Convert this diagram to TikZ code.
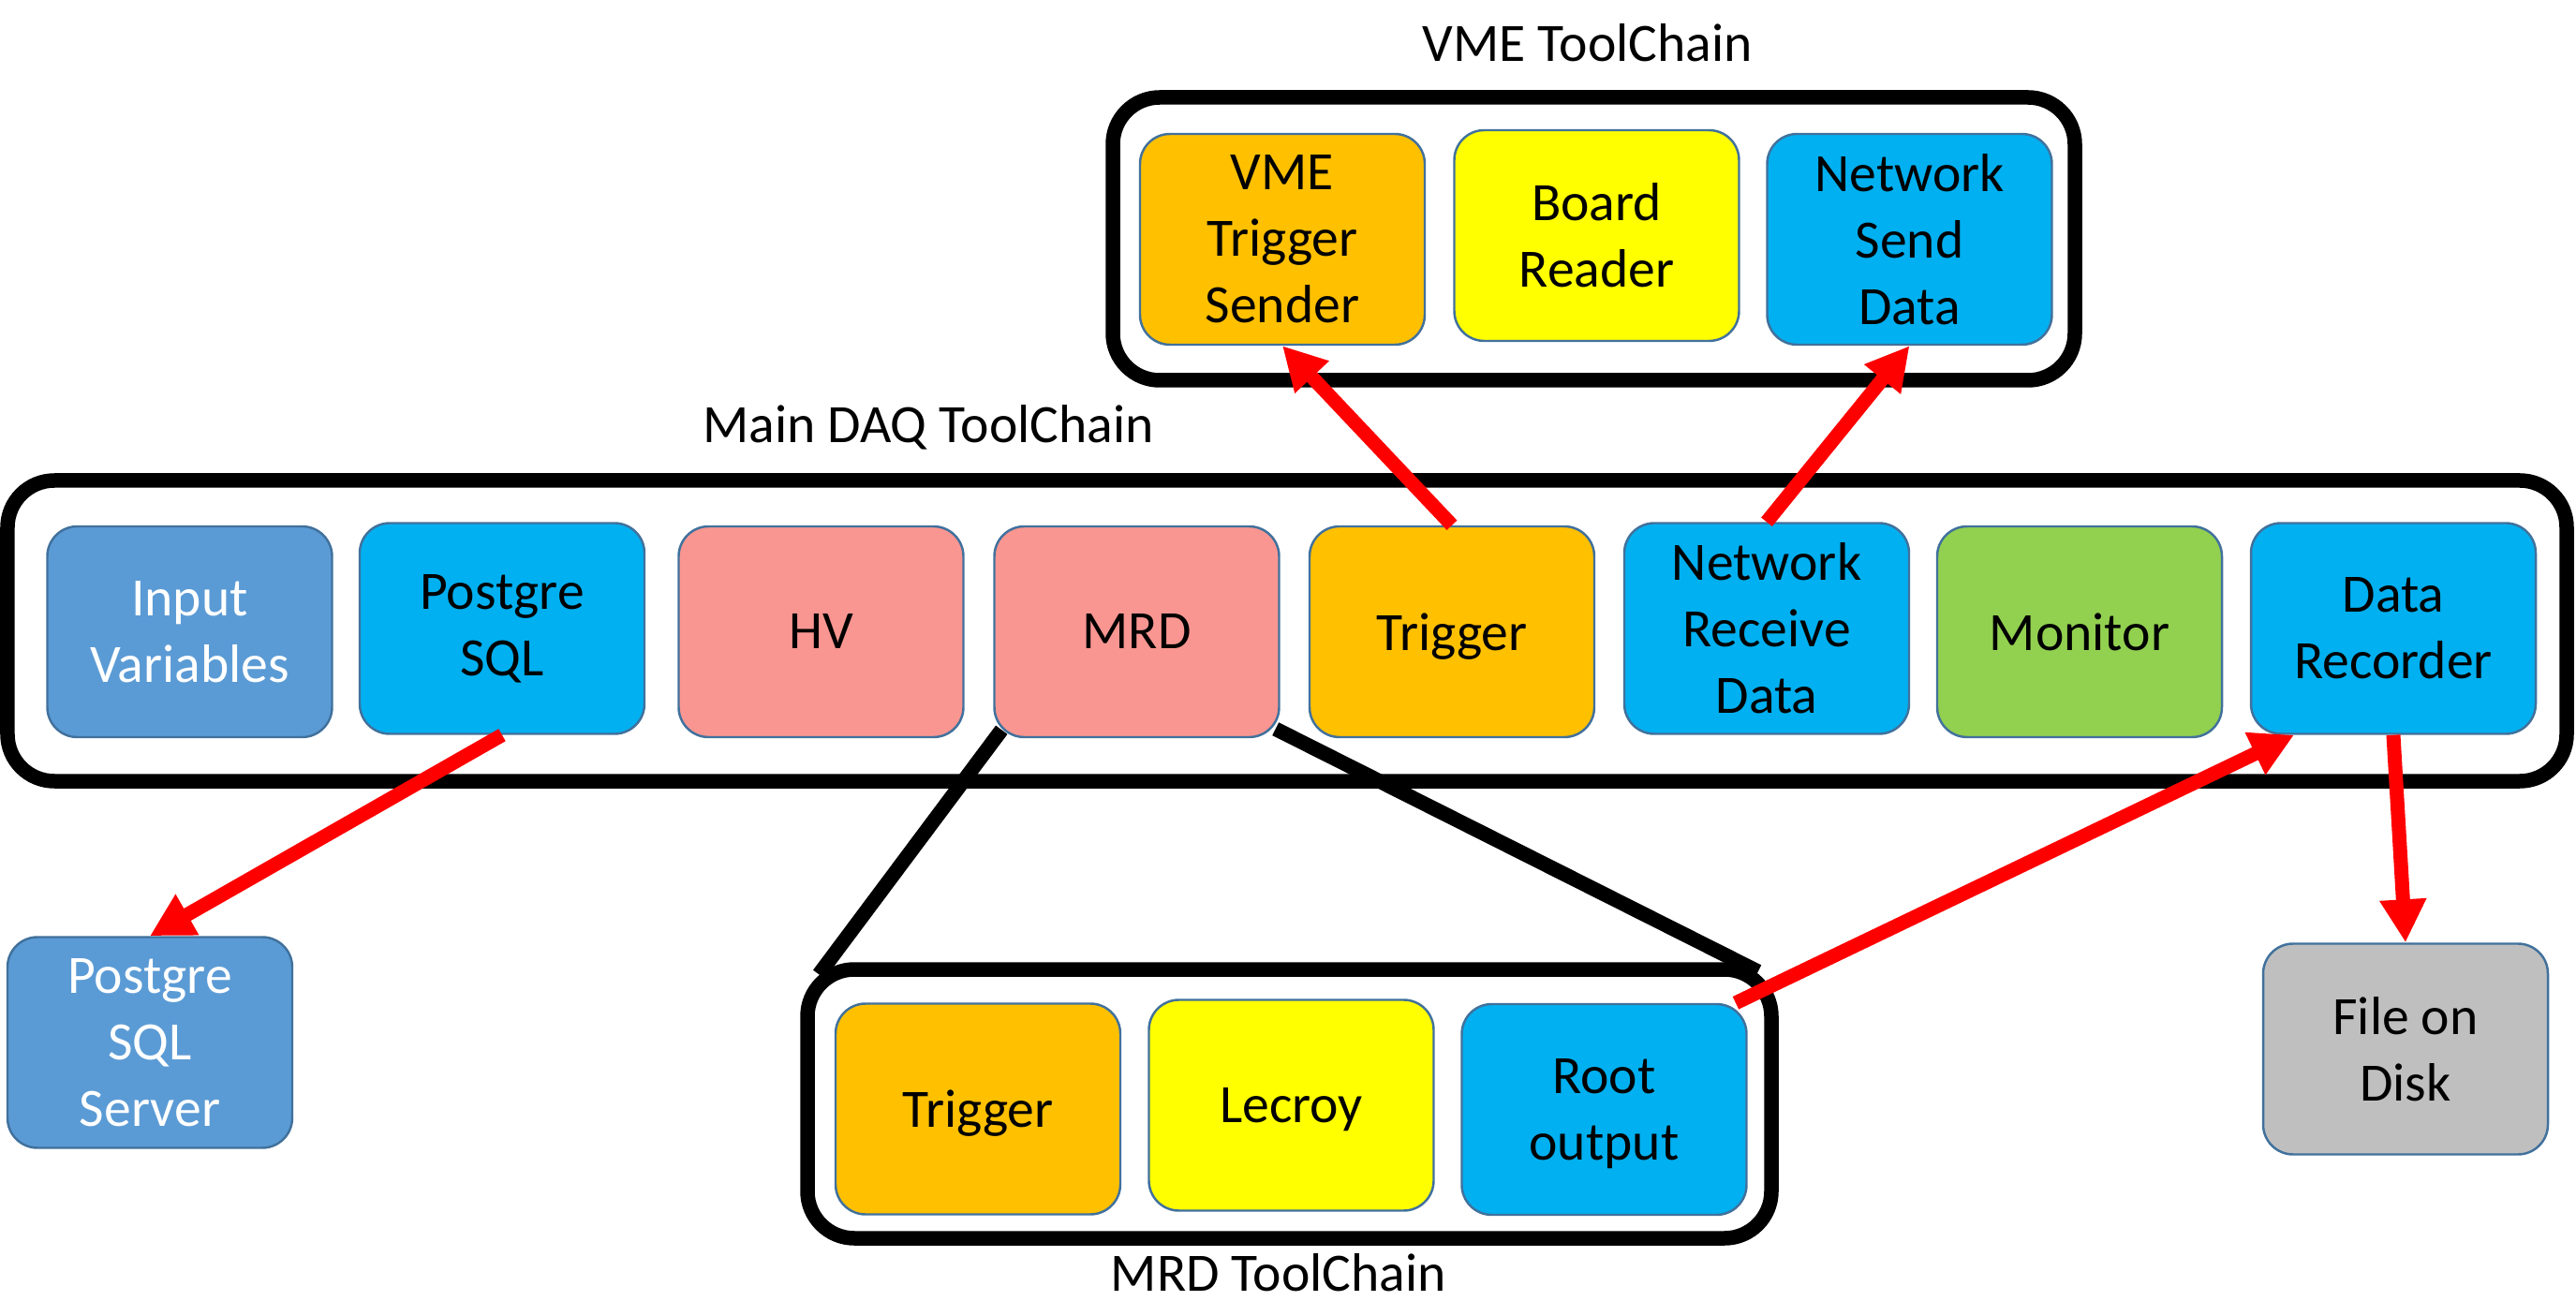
\documentclass[tikz,border=0pt]{standalone}
\usepackage{fontspec}
\setmainfont{Carlito}
\usepackage{tikz}
\usetikzlibrary{arrows.meta}

\definecolor{toolblue}{HTML}{00B0F0}
\definecolor{steelblue}{HTML}{5B9BD5}
\definecolor{toolpink}{HTML}{F99691}
\definecolor{toolorange}{HTML}{FFC000}
\definecolor{toolyellow}{HTML}{FFFF00}
\definecolor{toolgreen}{HTML}{92D050}
\definecolor{toolgrey}{HTML}{BFBFBF}
\definecolor{tooledge}{HTML}{41719C}

\begin{document}
\begin{tikzpicture}[
    toolbox/.style={draw=tooledge, line width=0.7pt, rounded corners=0.32cm,
      minimum width=3.04cm, minimum height=2.25cm, align=center, inner sep=0pt},
    chainbox/.style={draw=black, line width=0.155cm, rounded corners=0.5cm},
    chainlabel/.style={anchor=base, inner sep=0pt},
    dataflow/.style={red, line width=0.15cm, -{Triangle[length=0.46cm, width=0.47cm]}},
    zoomline/.style={black, line width=0.155cm},
    font=\fontsize{16.4}{20.2}\selectfont
  ]
  \useasboundingbox (0,0) rectangle (27.5,-13.89);

  % tool chains
  \node[chainbox, minimum width=10.27cm, minimum height=3.02cm] (vmechain) at (17.015,-2.55) {};
  \node[chainbox, minimum width=27.32cm, minimum height=3.21cm] (mainchain) at (13.74,-6.735) {};
  \node[chainbox, minimum width=10.29cm, minimum height=2.87cm] (mrdchain) at (13.765,-11.785) {};

  \node[chainlabel] (vmelabel) at (16.95,-0.66) {VME ToolChain};
  \node[chainlabel] (mainlabel) at (9.91,-4.73) {Main DAQ ToolChain};
  \node[chainlabel] (mrdlabel) at (13.65,-13.78) {MRD ToolChain};

  % main DAQ tools
  \node[toolbox, fill=steelblue, text=white] (input) at (2.025,-6.745) {Input\\Variables};
  \node[toolbox, fill=toolblue] (psql) at (5.36,-6.71) {Postgre\\SQL};
  \node[toolbox, fill=toolpink] (hv) at (8.765,-6.745) {HV};
  \node[toolbox, fill=toolpink] (mrd) at (12.135,-6.745) {MRD};
  \node[toolbox, fill=toolorange, text depth=0pt] (trigger) at (15.5,-6.745) {Trigger};
  \node[toolbox, fill=toolblue] (netrecv) at (18.86,-6.71) {Network\\Receive\\Data};
  \node[toolbox, fill=toolgreen] (monitor) at (22.2,-6.745) {Monitor};
  \node[toolbox, fill=toolblue] (recorder) at (25.55,-6.71) {Data\\Recorder};

  % VME tools
  \node[toolbox, fill=toolorange] (vmetrig) at (13.69,-2.555) {VME\\Trigger\\Sender};
  \node[toolbox, fill=toolyellow] (boardread) at (17.045,-2.515) {Board\\Reader};
  \node[toolbox, fill=toolblue] (netsend) at (20.385,-2.555) {Network\\Send\\Data};

  % MRD tools
  \node[toolbox, fill=toolorange, text depth=0pt] (mrdtrig) at (10.44,-11.84) {Trigger};
  \node[toolbox, fill=toolyellow, text depth=0pt] (lecroy) at (13.785,-11.80) {Lecroy};
  \node[toolbox, fill=toolblue] (rootout) at (17.125,-11.845) {Root\\\smash{output}};

  % outside
  \node[toolbox, fill=steelblue, text=white] (psqlserver) at (1.60,-11.13) {Postgre\\SQL\\Server};
  \node[toolbox, fill=toolgrey] (diskfile) at (25.68,-11.20) {File on\\Disk};

  \draw[zoomline] ([shift={(0.09,0.09)}]mrd.south west) -- ([shift={(0.2,-0.13)}]mrdchain.north west);
  \draw[zoomline] ([shift={(-0.05,0.1)}]mrd.south east) -- ([shift={(-0.22,-0.1)}]mrdchain.north east);

  \draw[dataflow] (trigger.north) -- (vmetrig.south);
  \draw[dataflow] (netrecv.north) -- (netsend.south);
  \draw[dataflow] (psql.south) -- (psqlserver.north);
  \draw[dataflow] (rootout.39) -- (recorder.227);
  \draw[dataflow] (recorder.south) -- (diskfile.north);
\end{tikzpicture}
\end{document}
